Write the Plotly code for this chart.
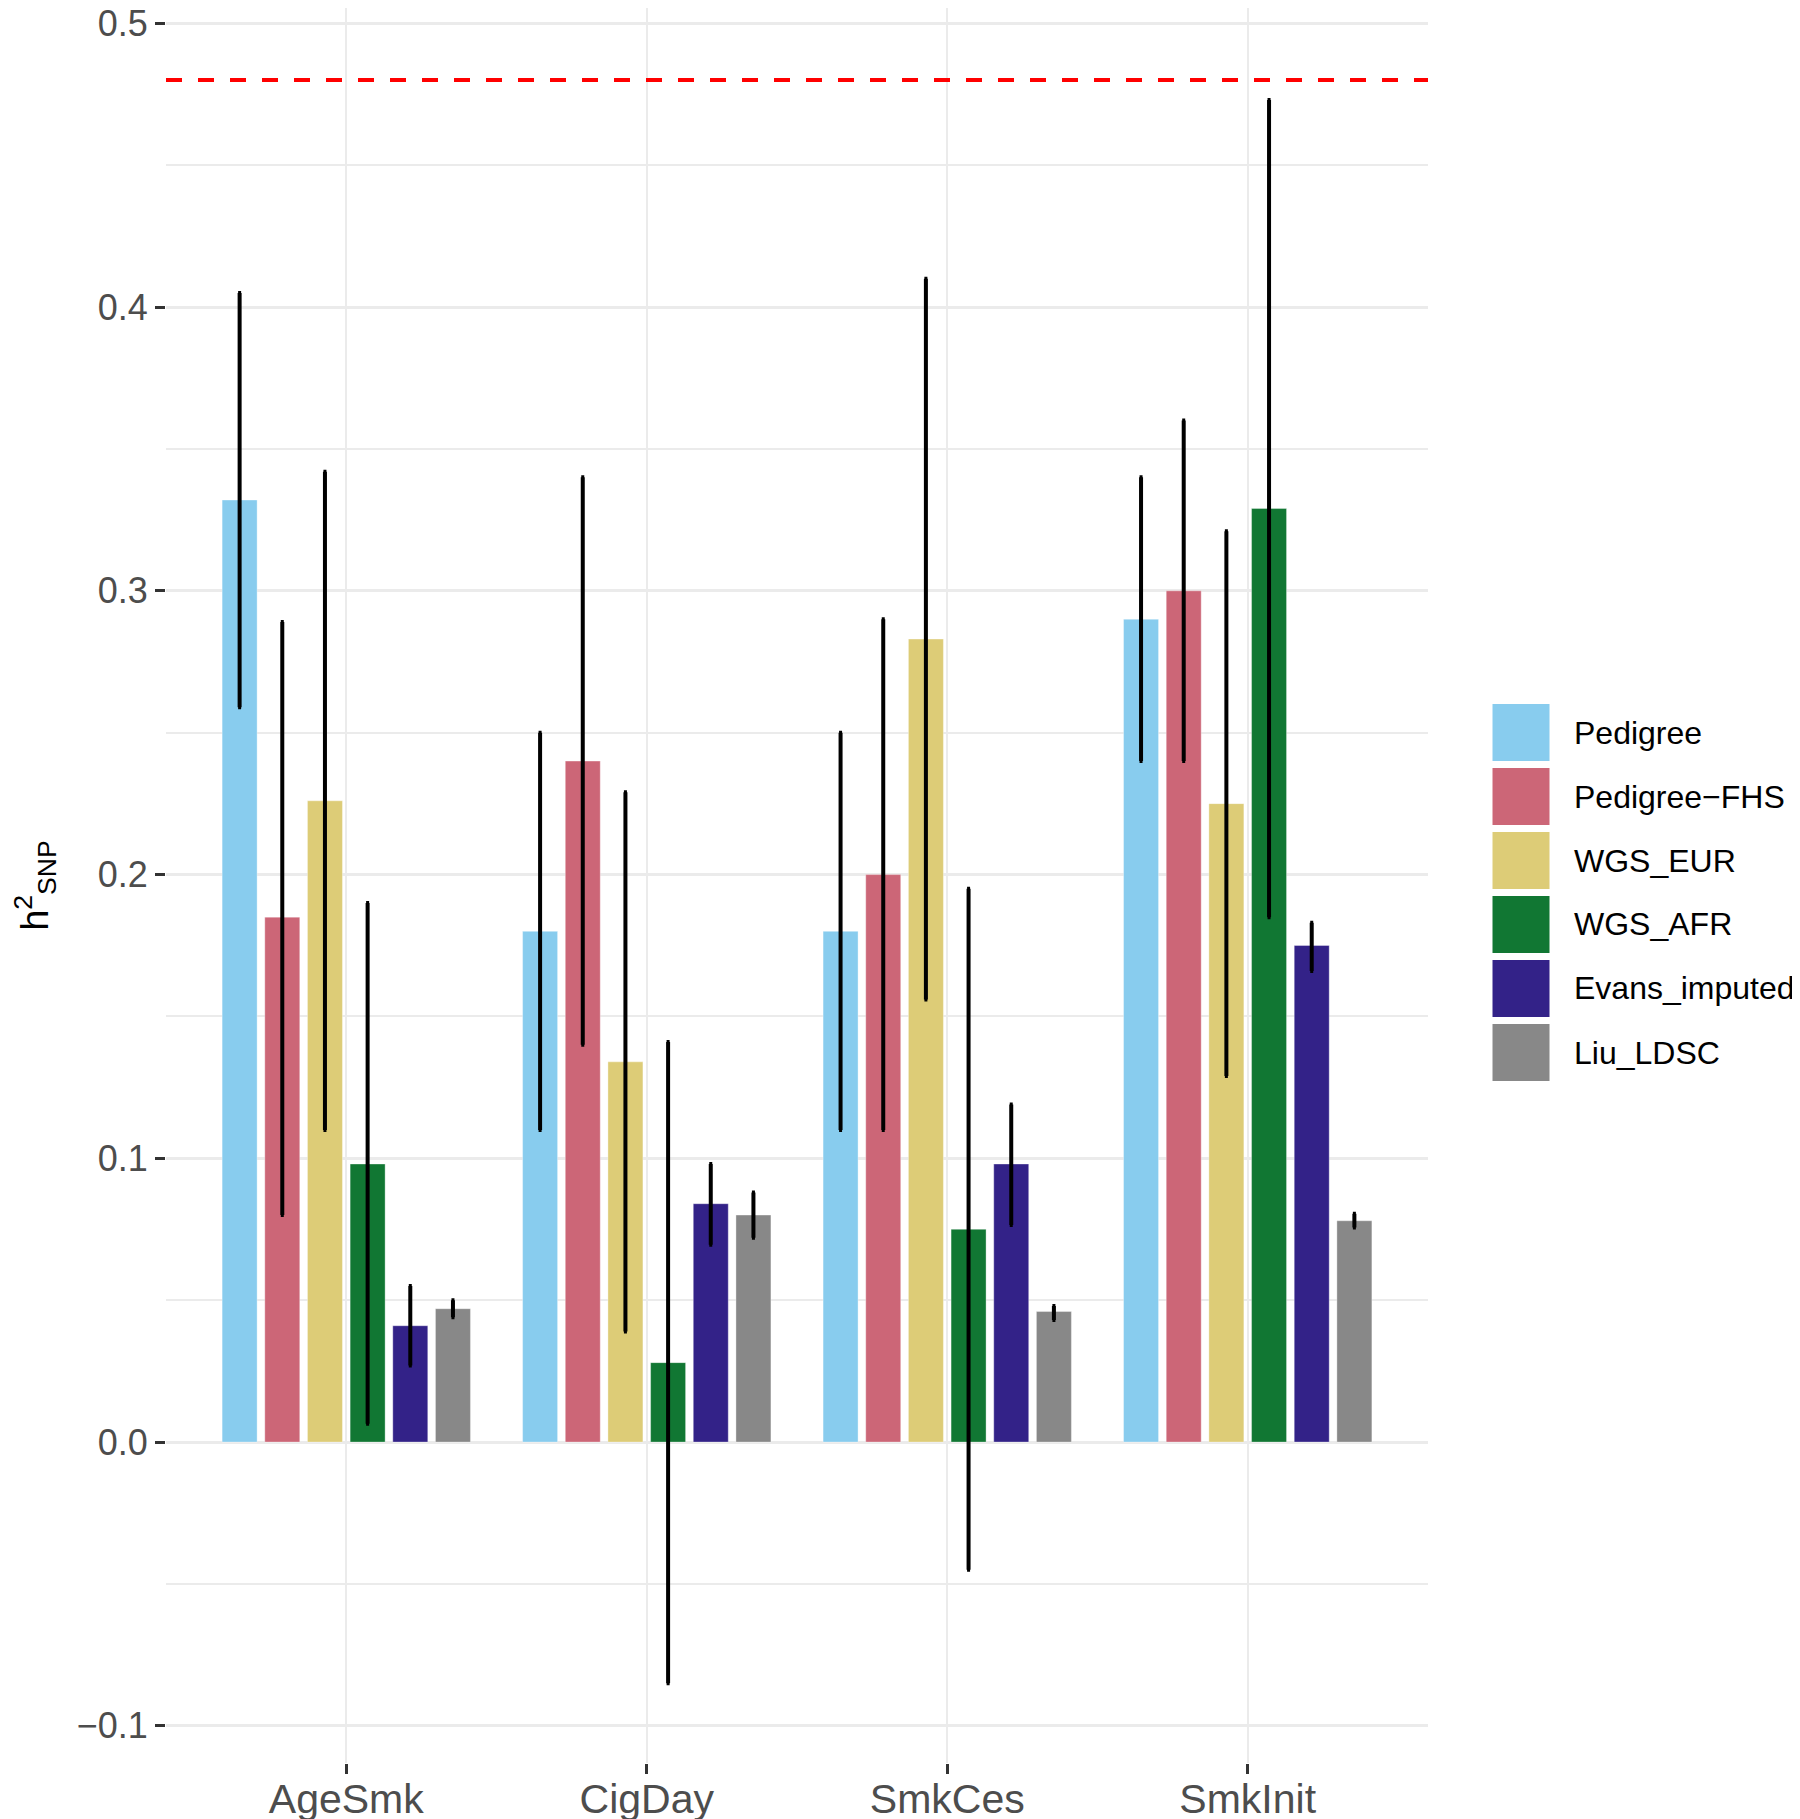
import plotly.graph_objects as go

categories = ["AgeSmk", "CigDay", "SmkCes", "SmkInit"]
series = ["Pedigree", "Pedigree\u2212FHS", "WGS_EUR", "WGS_AFR", "Evans_imputed", "Liu_LDSC"]
colors = ["#88CCEE", "#CC6677", "#DDCC77", "#117733", "#332288", "#888888"]

# estimates per series (order of categories)
pedigree = [0.332, 0.180, 0.180, 0.290]
pedigree_fhs = [0.185, 0.240, 0.200, 0.300]
wgs_eur = [0.226, 0.134, 0.283, 0.225]
wgs_afr = [0.098, 0.028, 0.075, 0.329]
evans_imputed = [0.041, 0.084, 0.098, 0.175]
liu_ldsc = [0.047, 0.080, 0.046, 0.078]

# confidence limits
pedigree_lo = [0.259, 0.110, 0.110, 0.240]
pedigree_hi = [0.405, 0.250, 0.250, 0.340]
pedigree_fhs_lo = [0.080, 0.140, 0.110, 0.240]
pedigree_fhs_hi = [0.289, 0.340, 0.290, 0.360]
wgs_eur_lo = [0.110, 0.039, 0.156, 0.129]
wgs_eur_hi = [0.342, 0.229, 0.410, 0.321]
wgs_afr_lo = [0.0065, -0.085, -0.045, 0.185]
wgs_afr_hi = [0.190, 0.141, 0.195, 0.473]
evans_lo = [0.027, 0.0695, 0.0765, 0.166]
evans_hi = [0.055, 0.098, 0.119, 0.183]
liu_lo = [0.044, 0.072, 0.043, 0.0756]
liu_hi = [0.050, 0.088, 0.048, 0.0805]

reference_line = 0.48

values = [pedigree, pedigree_fhs, wgs_eur, wgs_afr, evans_imputed, liu_ldsc]
lows = [pedigree_lo, pedigree_fhs_lo, wgs_eur_lo, wgs_afr_lo, evans_lo, liu_lo]
highs = [pedigree_hi, pedigree_fhs_hi, wgs_eur_hi, wgs_afr_hi, evans_hi, liu_hi]

OFF = 8  # page body margin
W, H = 1800 - OFF, 1819 - OFF
L, R, T, B = 166 - OFF, 1428 - OFF, 0, 1763 - OFF

fig = go.Figure()
for name, col, v, lo, hi in zip(series, colors, values, lows, highs):
    fig.add_trace(go.Bar(
        x=categories, y=v, name=name,
        marker=dict(color=col, line=dict(width=1, color="rgba(255,255,255,0.35)")),
        error_y=dict(type="data", symmetric=False,
                     array=[h - a for h, a in zip(hi, v)],
                     arrayminus=[a - l for a, l in zip(v, lo)],
                     color="black", thickness=4, width=1.5),
        showlegend=False,
    ))

fig.add_shape(type="line", xref="paper", yref="y", x0=0, x1=1,
              y0=reference_line, y1=reference_line,
              line=dict(color="#FF0000", width=4, dash="16px,16px"))

def px_x(p):
    return (p - OFF - L) / (R - L)

def px_y(p):
    return (B - (p - OFF)) / (B - T)

# custom legend (large keys like ggplot)
for i, (name, col) in enumerate(zip(series, colors)):
    top = 703.5 + i * 64
    fig.add_shape(type="rect", xref="paper", yref="paper",
                  x0=px_x(1492), x1=px_x(1550), y0=px_y(top + 58), y1=px_y(top),
                  fillcolor=col, line=dict(color="white", width=1))
    fig.add_annotation(xref="paper", yref="paper", x=px_x(1572), y=px_y(top + 29),
                       text=name, showarrow=False, xanchor="left", yanchor="middle",
                       font=dict(size=32, color="black", family="Arial"))

fig.update_layout(
    width=W, height=H,
    margin=dict(l=L, r=W - R, t=T, b=H - B, autoexpand=False),
    paper_bgcolor="white", plot_bgcolor="white",
    barmode="group", bargap=0.148, bargroupgap=0.18,
    font=dict(family="Arial", color="#4D4D4D"),
    xaxis=dict(
        range=[-0.6, 3.6], showgrid=True, gridcolor="#EBEBEB", gridwidth=2,
        ticks="outside", ticklen=10, tickwidth=3, tickcolor="#333333",
        tickfont=dict(size=41, color="#4D4D4D"), showline=False, zeroline=False,
        ticklabelstandoff=-10, ticklabeloverflow="allow",
        automargin=False,
    ),
    yaxis=dict(
        range=[-0.1131, 0.5054], tickvals=[-0.1, 0.0, 0.1, 0.2, 0.3, 0.4, 0.5],
        ticktext=["\u22120.1", "0.0", "0.1", "0.2", "0.3", "0.4", "0.5"],
        showgrid=True, gridcolor="#EBEBEB", gridwidth=3,
        minor=dict(tickvals=[-0.05, 0.05, 0.15, 0.25, 0.35, 0.45], showgrid=True,
                   gridcolor="#EBEBEB", gridwidth=2, ticks=""),
        zeroline=False, showline=False,
        ticks="outside", ticklen=10, tickwidth=3, tickcolor="#333333",
        tickfont=dict(size=36, color="#4D4D4D"), ticklabeloverflow="allow",
        title=dict(text="h<sup>2</sup><sub>SNP</sub>", font=dict(size=38, color="black"),
                   standoff=28),
        automargin=False,
    ),
)

fig.write_html("out.html")
